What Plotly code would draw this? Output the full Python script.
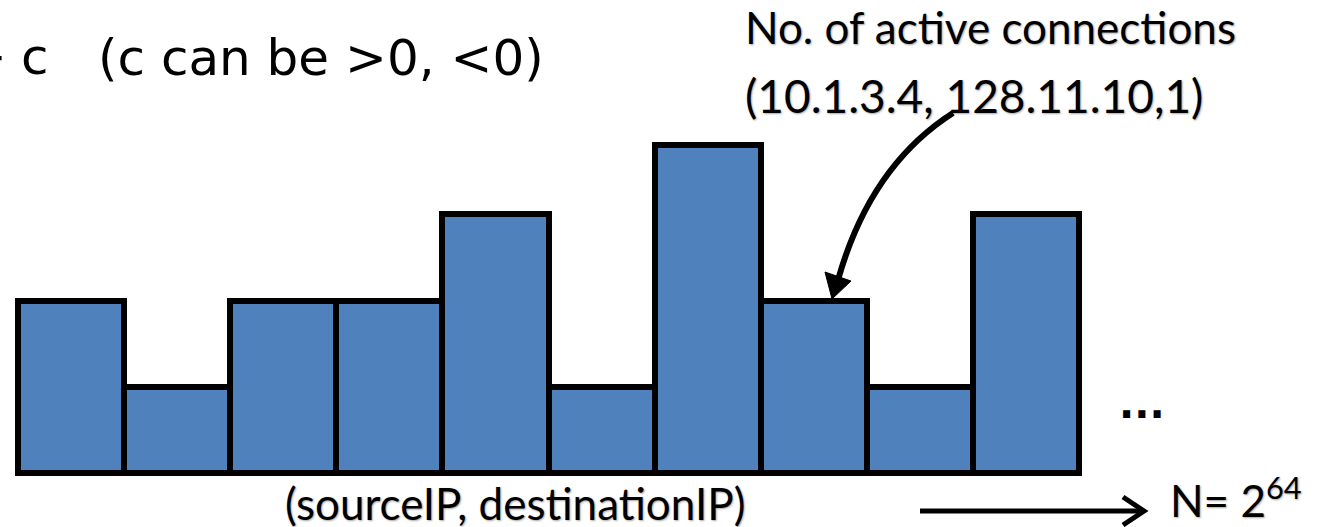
import plotly.graph_objects as go

# data
bins = [f"bin{i+1}" for i in range(10)]
counts = [2.0, 1.0, 2.0, 2.0, 3.0, 1.0, 3.8, 2.0, 1.0, 3.0]

W, H = 1318, 527
# pixel geometry of axes (layout only)
PX_LEFT, PX_BAR = 18.0, 106.1   # left edge of first bar, bar width in px
PY_ZERO, PY_UNIT = 473.0, 86.2  # baseline pixel row, px per unit

x0 = -PX_LEFT / PX_BAR
x1 = x0 + W / PX_BAR
y0 = -(H - PY_ZERO) / PY_UNIT
y1 = PY_ZERO / PY_UNIT

xs = [i + 0.5 for i in range(len(bins))]

fig = go.Figure()
fig.add_trace(go.Bar(
    x=xs, y=counts, width=1.0,
    marker=dict(color="#4F81BD", line=dict(color="black", width=6)),
    hoverinfo="skip", text=bins, textposition="none",
))


def px(x):
    return x / W


def py(y):
    return 1 - y / H


CAL = "Lato, 'Open Sans', sans-serif"
TAH = "'DejaVu Sans', Verdana, sans-serif"
shadow = "1px 1px 2px rgba(0,0,0,0.35)"

ann = []
ann.append(dict(text="+", x=px(9), y=py(57), xanchor="right", yanchor="middle",
                font=dict(family=TAH, size=50, color="black")))
ann.append(dict(text="c", x=px(19), y=py(57), xanchor="left", yanchor="middle",
                font=dict(family=TAH, size=50, color="black")))
ann.append(dict(text="(c can be >0, <0)", x=px(96), y=py(58), xanchor="left", yanchor="middle",
                font=dict(family=TAH, size=50, color="black")))
ann.append(dict(text="No. of active connections", x=px(743), y=py(27), xanchor="left", yanchor="middle",
                font=dict(family=CAL, size=44, color="black", shadow=shadow)))
ann.append(dict(text="(10.1.3.4, 128.11.10,1)", x=px(743), y=py(95), xanchor="left", yanchor="middle",
                font=dict(family=CAL, size=46, color="black", shadow=shadow)))
ann.append(dict(text="(sourceIP, destinationIP)", x=px(515), y=py(503), xanchor="center", yanchor="middle",
                font=dict(family=CAL, size=44, color="black", shadow=shadow)))
ann.append(dict(text="...", x=px(1142), y=py(404), xanchor="center", yanchor="middle",
                font=dict(family=TAH, size=40, color="black", weight="bold")))
ann.append(dict(text="N= 2<sup>64</sup>", x=px(1168), y=py(497), xanchor="left", yanchor="middle",
                font=dict(family=CAL, size=44, color="black", shadow=shadow)))
for a in ann:
    a.update(xref="paper", yref="paper", showarrow=False)

shapes = []
# curved arrow
p0 = (953, 113); c = (870, 166); p1 = (838, 280)
shapes.append(dict(type="path", xref="paper", yref="paper",
                   path=f"M {px(p0[0])},{py(p0[1])} Q {px(c[0])},{py(c[1])} {px(p1[0])},{py(p1[1])}",
                   line=dict(color="black", width=6)))
tip = (832, 299); b1 = (851, 281); b2 = (825, 272)
shapes.append(dict(type="path", xref="paper", yref="paper",
                   path=f"M {px(tip[0])},{py(tip[1])} L {px(b1[0])},{py(b1[1])} L {px(b2[0])},{py(b2[1])} Z",
                   fillcolor="black", line=dict(color="black", width=1)))
# straight arrow
shapes.append(dict(type="line", xref="paper", yref="paper",
                   x0=px(920), y0=py(511), x1=px(1142), y1=py(511),
                   line=dict(color="black", width=5)))
shapes.append(dict(type="path", xref="paper", yref="paper",
                   path=f"M {px(1123)},{py(497)} L {px(1144)},{py(511)} L {px(1123)},{py(525)}",
                   line=dict(color="black", width=5)))

fig.update_layout(
    width=W, height=H, margin=dict(l=0, r=0, t=0, b=0),
    paper_bgcolor="white", plot_bgcolor="white",
    showlegend=False, bargap=0,
    xaxis=dict(range=[x0, x1], visible=False, fixedrange=True),
    yaxis=dict(range=[y0, y1], visible=False, fixedrange=True),
    annotations=ann, shapes=shapes,
)
fig.write_html("out.html", config={"displayModeBar": False},
               post_script="document.body.style.margin='0';document.body.style.overflow='hidden';")
